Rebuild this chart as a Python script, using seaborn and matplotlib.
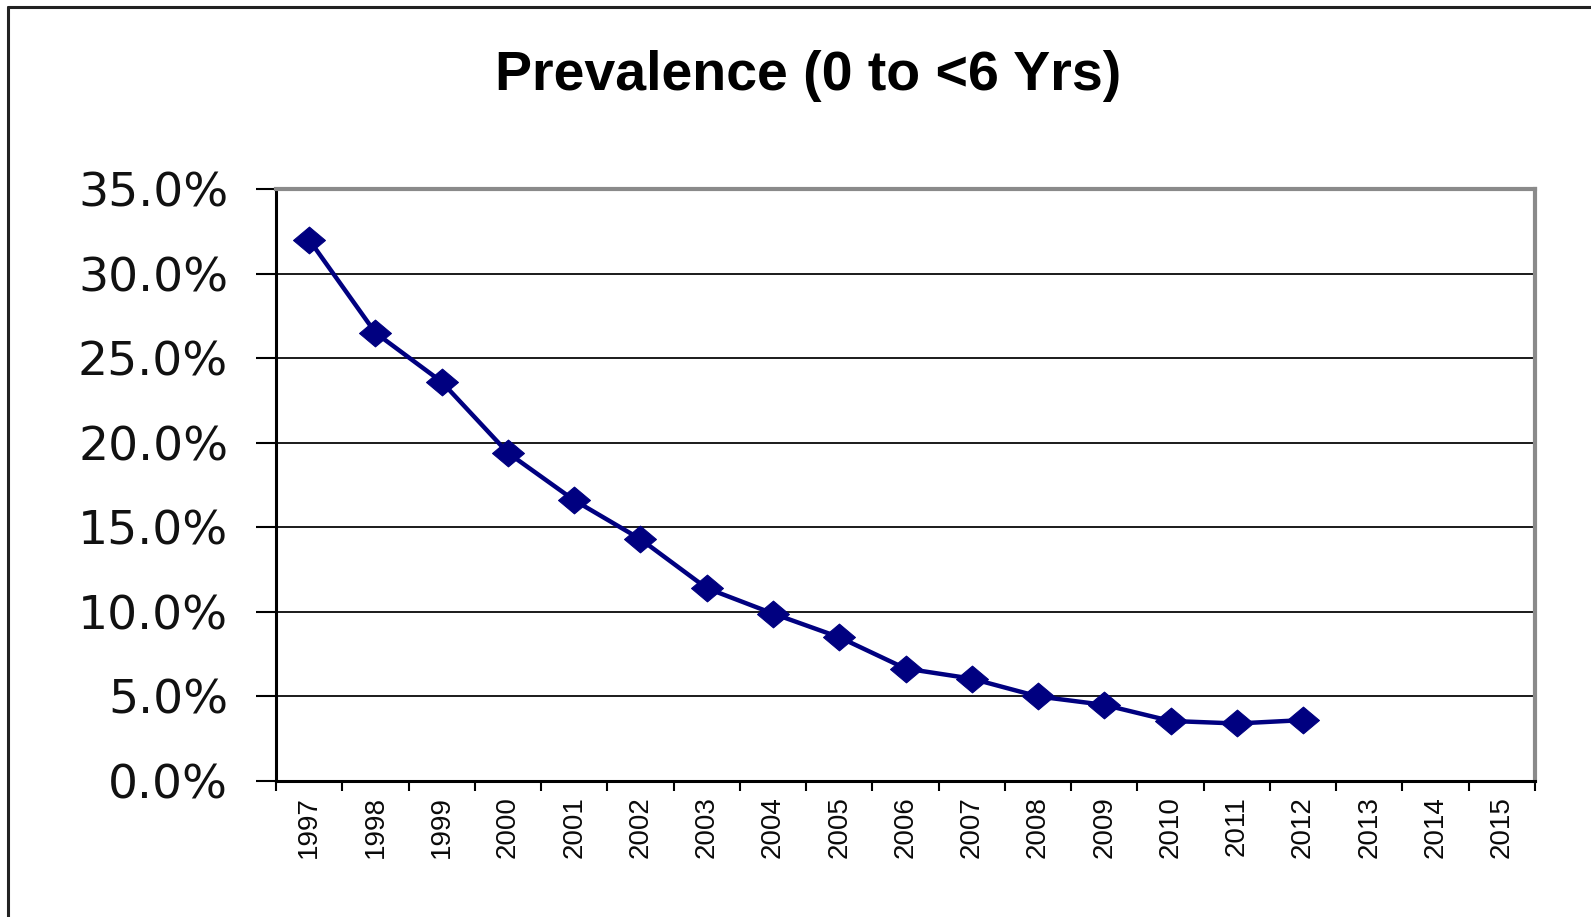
import matplotlib
matplotlib.use("Agg")
import matplotlib.pyplot as plt
import matplotlib.ticker as mticker
from matplotlib.lines import Line2D
import seaborn as sns
import pandas as pd
import numpy as np

# ---- data ----
title = "Prevalence (0 to <6 Yrs)"
categories = [str(y) for y in range(1997, 2016)]
data_years = list(range(1997, 2013))
prevalence = [32.0, 26.5, 23.6, 19.4, 16.6, 14.3, 11.4, 9.9, 8.5, 6.65,
              6.05, 5.0, 4.5, 3.55, 3.4, 3.6]
y_ticks = [0, 5, 10, 15, 20, 25, 30, 35]

sns.set_theme(style="white")
plt.rcParams["font.family"] = ["Liberation Sans", "DejaVu Sans"]

W, H = 1591, 917
fig = plt.figure(figsize=(W / 100, H / 100), dpi=100)
fig.patch.set_facecolor("white")
ax = fig.add_axes([276 / W, 1 - 781 / H, (1535 - 276) / W, (781 - 189) / H])

df = pd.DataFrame({"year": data_years, "value": [v / 100 for v in prevalence]})
diamond = [(-1, 0), (0, 0.84), (1, 0), (0, -0.84), (-1, 0)]
sns.lineplot(data=df, x="year", y="value", ax=ax, color="#000080",
             linewidth=3.2, marker=diamond, markersize=23,
             markeredgecolor="#000080", markerfacecolor="#000080", zorder=5)

ax.set_xlim(1996.5, 2015.5)
ax.set_ylim(0, 0.35)
ax.set_xlabel("")
ax.set_ylabel("")

# x: boundaries as major ticks, labels as minor
ax.xaxis.set_major_locator(mticker.FixedLocator(np.arange(1996.5, 2016.0, 1.0)))
ax.xaxis.set_major_formatter(mticker.NullFormatter())
ax.xaxis.set_minor_locator(mticker.FixedLocator([int(c) for c in categories]))
ax.xaxis.set_minor_formatter(mticker.FixedFormatter(categories))
ax.tick_params(axis="x", which="major", direction="out", length=7.2, width=1.5,
               color="black", bottom=True)
ax.tick_params(axis="x", which="minor", length=0, pad=11, bottom=True)
for lab in ax.get_xticklabels(minor=True):
    lab.set_rotation(90)
    lab.set_fontsize(20)
    lab.set_family("Liberation Sans")
    lab.set_color("#0a0a0a")
    lab.set_va("top")
    lab.set_ha("center")

ax.set_yticks([t / 100 for t in y_ticks])
ax.yaxis.set_major_formatter(mticker.FuncFormatter(lambda v, p: f"{v * 100:.1f}%"))
ax.tick_params(axis="y", direction="out", length=14.4, width=1.5, color="black",
               pad=20, left=True, labelsize=34, labelcolor="#111111")
for lab in ax.get_yticklabels():
    lab.set_family("DejaVu Sans")

ax.grid(False)
for t in y_ticks[1:-1]:
    ax.axhline(t / 100, color="#1a1a1a", linewidth=1.4, zorder=1)

ax.spines["left"].set_color("black")
ax.spines["left"].set_linewidth(2.2)
ax.spines["bottom"].set_color("black")
ax.spines["bottom"].set_linewidth(2.2)
for s in ("top", "right"):
    ax.spines[s].set_color("#8a8a8a")
    ax.spines[s].set_linewidth(3.0)

fig.text(808 / W, 1 - 76 / H, title, ha="center", va="center",
         fontsize=40, fontweight="bold", color="black", family="Liberation Sans")

# outer frame (left and top edges visible)
fig.add_artist(Line2D([8 / W, 8 / W], [0, 1 - 7 / H], transform=fig.transFigure,
                      color="#222222", linewidth=2.2))
fig.add_artist(Line2D([8 / W, 1], [1 - 7 / H, 1 - 7 / H], transform=fig.transFigure,
                      color="#222222", linewidth=2.2))

fig.savefig("out.png", dpi=100, facecolor="white")
